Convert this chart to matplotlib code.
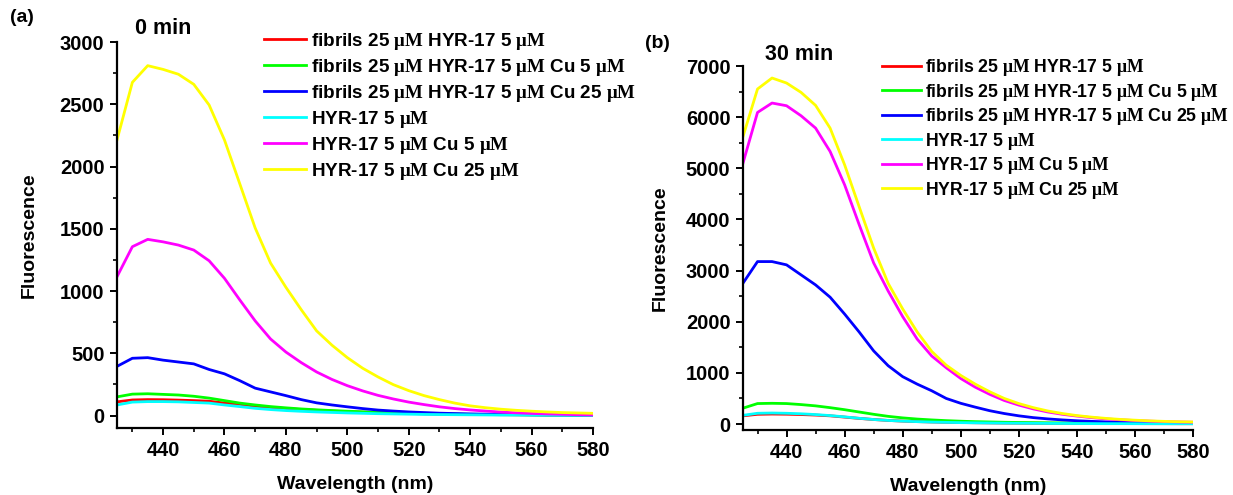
import matplotlib
matplotlib.use("Agg")
import matplotlib.pyplot as plt
from matplotlib.ticker import MultipleLocator

plt.rcParams['font.family'] = ['Liberation Sans', 'DejaVu Sans']
plt.rcParams['font.weight'] = 'bold'
plt.rcParams['mathtext.fontset'] = 'custom'
plt.rcParams['mathtext.rm'] = 'Liberation Serif:bold'
plt.rcParams['mathtext.it'] = 'Liberation Serif:bold:italic'
plt.rcParams['mathtext.bf'] = 'Liberation Serif:bold'

wavelength = list(range(425, 581, 5))

labels = [
    r"fibrils 25 $\mathrm{μM}$ HYR-17 5 $\mathrm{μM}$",
    r"fibrils 25 $\mathrm{μM}$ HYR-17 5 $\mathrm{μM}$ Cu 5 $\mathrm{μM}$",
    r"fibrils 25 $\mathrm{μM}$ HYR-17 5 $\mathrm{μM}$ Cu 25 $\mathrm{μM}$",
    r"HYR-17 5 $\mathrm{μM}$",
    r"HYR-17 5 $\mathrm{μM}$ Cu 5 $\mathrm{μM}$",
    r"HYR-17 5 $\mathrm{μM}$ Cu 25 $\mathrm{μM}$",
]
colors = ['#ff0000', '#00ff00', '#0000ff', '#00ffff', '#ff00ff', '#ffff00']

# 0 min
a_red = [110, 125, 128, 127, 124, 120, 115, 100, 90, 75, 65, 56, 48, 42, 36, 31,
         27, 23, 20, 17, 14, 12, 10, 9, 8, 7, 6, 5, 4, 4, 3, 3]
a_green = [150, 172, 175, 170, 165, 155, 140, 120, 100, 85, 72, 62, 53, 46, 40, 35,
           30, 26, 22, 19, 16, 14, 12, 10, 9, 8, 7, 6, 5, 5, 4, 4]
a_blue = [395, 460, 465, 445, 430, 415, 370, 335, 280, 220, 190, 160, 128, 102, 85, 70,
          56, 44, 36, 29, 24, 19, 16, 13, 11, 9, 8, 7, 6, 5, 4, 4]
a_cyan = [85, 108, 112, 112, 110, 105, 100, 85, 72, 58, 48, 40, 34, 29, 25, 21,
          18, 15, 13, 11, 9, 8, 7, 6, 5, 4, 4, 3, 3, 2, 2, 2]
a_magenta = [1115, 1356, 1415, 1395, 1369, 1329, 1243, 1102, 928, 760, 615, 510, 425, 350, 290, 240,
             198, 162, 133, 108, 88, 70, 56, 45, 36, 28, 22, 17, 13, 10, 7, 5]
a_yellow = [2213, 2676, 2810, 2780, 2741, 2660, 2494, 2213, 1860, 1506, 1225, 1030, 850, 680, 565, 465,
            380, 310, 248, 200, 160, 128, 100, 78, 63, 51, 42, 35, 29, 24, 21, 18]

# 30 min
b_red = [160, 190, 195, 192, 185, 175, 160, 135, 110, 88, 70, 57, 47, 40, 34, 29,
         25, 22, 19, 17, 15, 13, 12, 11, 10, 9, 8, 8, 7, 7, 6, 6]
b_green = [310, 400, 405, 400, 380, 355, 320, 280, 235, 190, 150, 120, 97, 80, 66, 55,
           46, 40, 34, 30, 27, 24, 22, 20, 18, 17, 16, 15, 14, 13, 12, 12]
b_blue = [2754, 3176, 3176, 3112, 2916, 2720, 2480, 2150, 1800, 1430, 1140, 926, 780, 650, 500, 405,
          330, 260, 205, 160, 125, 100, 80, 64, 52, 42, 34, 28, 24, 20, 17, 15]
b_cyan = [170, 210, 215, 210, 200, 185, 165, 140, 112, 88, 70, 56, 46, 38, 32, 27,
          23, 20, 17, 15, 13, 11, 10, 9, 8, 7, 7, 6, 6, 5, 5, 5]
b_magenta = [5102, 6092, 6276, 6223, 6027, 5786, 5329, 4677, 3900, 3150, 2600, 2100, 1660, 1330, 1100, 890,
             720, 580, 460, 370, 295, 235, 190, 155, 125, 100, 82, 68, 56, 47, 40, 35]
b_yellow = [5620, 6550, 6765, 6667, 6484, 6230, 5786, 5068, 4250, 3440, 2750, 2250, 1800, 1420, 1150, 950,
            780, 630, 500, 400, 320, 255, 205, 165, 135, 110, 90, 75, 62, 52, 45, 40]

panel_a = [a_red, a_green, a_blue, a_cyan, a_magenta, a_yellow]
panel_b = [b_red, b_green, b_blue, b_cyan, b_magenta, b_yellow]

W, H = 1233, 495
fig = plt.figure(figsize=(W / 100, H / 100), dpi=100)

def px_axes(l, t, r, b):
    return fig.add_axes([l / W, 1 - b / H, (r - l) / W, (b - t) / H])

ax1 = px_axes(117, 42, 593, 428)
ax2 = px_axes(743, 66, 1193, 430)

fs_tick = 14.5
fs_lab = 14

def style(ax, ylim, major, minor, ylpad):
    ax.set_xlim(425, 580)
    ax.set_ylim(*ylim)
    ax.xaxis.set_minor_locator(MultipleLocator(10))
    ax.yaxis.set_minor_locator(MultipleLocator(minor))
    ax.set_xticks(range(440, 581, 20))
    ax.set_yticks(range(0, int(ylim[1]) + 1, major))
    for s in ['top', 'right']:
        ax.spines[s].set_visible(False)
    for s in ['left', 'bottom']:
        ax.spines[s].set_linewidth(1.6)
    ax.tick_params(which='major', direction='out', length=5, width=1.4, labelsize=fs_tick, pad=4)
    ax.tick_params(which='minor', direction='out', length=3, width=1.2)
    for lab in ax.get_xticklabels() + ax.get_yticklabels():
        lab.set_fontweight('bold')
    ax.set_xlabel("Wavelength (nm)", fontsize=fs_lab, fontweight='bold', labelpad=12)
    ax.set_ylabel("Fluorescence", fontsize=fs_lab, fontweight='bold', labelpad=ylpad)

for ax, data in [(ax1, panel_a), (ax2, panel_b)]:
    for vals, c, lab in zip(data, colors, labels):
        ax.plot(wavelength, vals, color=c, lw=2, label=lab)

style(ax1, (-100, 3000), 500, 250, 16)
style(ax2, (-117, 7000), 1000, 500, 12)

ax1.legend(bbox_to_anchor=(264 / W, 1 - 31 / H), bbox_transform=fig.transFigure,
           frameon=False, loc='upper left', borderpad=0, borderaxespad=0,
           handlelength=2.2, handletextpad=0.3, labelspacing=0.265,
           prop={'size': 13.6, 'weight': 'bold'})
ax2.legend(bbox_to_anchor=(882 / W, 1 - 57 / H), bbox_transform=fig.transFigure,
           frameon=False, loc='upper left', borderpad=0, borderaxespad=0,
           handlelength=2.2, handletextpad=0.25, labelspacing=0.2,
           prop={'size': 12.7, 'weight': 'bold'})

fig.text(135 / W, 1 - 28 / H, "0 min", fontsize=15.5, fontweight='bold', va='center', ha='left')
fig.text(765 / W, 1 - 55 / H, "30 min", fontsize=15.5, fontweight='bold', va='center', ha='left')
fig.text(10 / W, 1 - 18 / H, "(a)", fontsize=14, fontweight='bold', va='center', ha='left')
fig.text(645 / W, 1 - 43 / H, "(b)", fontsize=14, fontweight='bold', va='center', ha='left')

fig.savefig("out.png", dpi=100)
